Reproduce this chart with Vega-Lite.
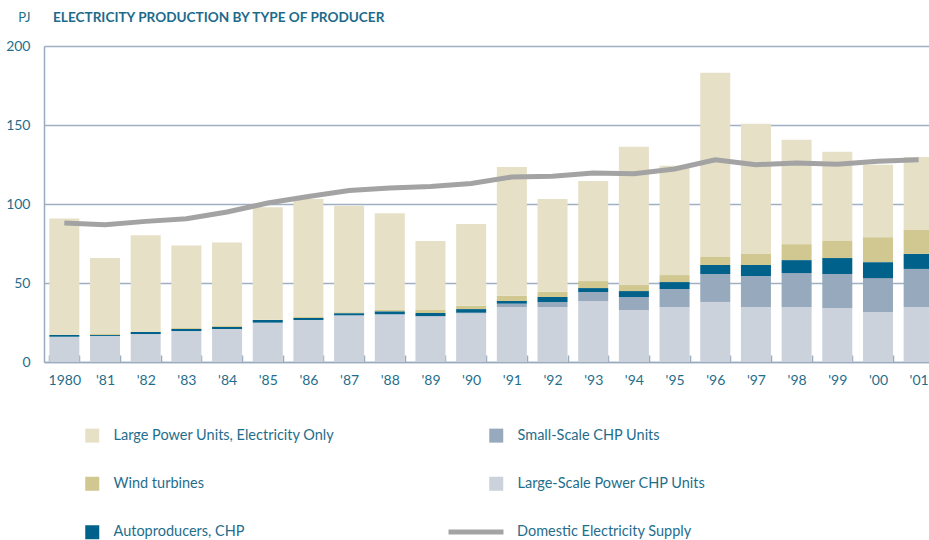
{
  "$schema": "https://vega.github.io/schema/vega-lite/v6.json",
  "autosize": {"type": "none"},
  "width": 885,
  "height": 316,
  "padding": {"left": 44, "top": 46, "right": 0, "bottom": 178},
  "background": "white",
  "title": {
    "text": "ELECTRICITY PRODUCTION BY TYPE OF PRODUCER",
    "anchor": "start",
    "frame": "group",
    "dx": 9,
    "offset": -14,
    "font": "Lato",
    "fontSize": 13.6,
    "fontWeight": "bold",
    "color": "#1d6b8b"
  },
  "data": {
    "values": [
      {"year": "1980", "Large-Scale Power CHP Units": 16.0, "Small-Scale CHP Units": 0, "Autoproducers, CHP": 1.1, "Wind turbines": 0, "Large Power Units, Electricity Only": 73.8, "supply": 88.0},
      {"year": "'81", "Large-Scale Power CHP Units": 16.5, "Small-Scale CHP Units": 0, "Autoproducers, CHP": 0.6, "Wind turbines": 0.6, "Large Power Units, Electricity Only": 48.1, "supply": 86.9},
      {"year": "'82", "Large-Scale Power CHP Units": 17.7, "Small-Scale CHP Units": 0, "Autoproducers, CHP": 1.3, "Wind turbines": 0, "Large Power Units, Electricity Only": 61.2, "supply": 89.0},
      {"year": "'83", "Large-Scale Power CHP Units": 19.6, "Small-Scale CHP Units": 0, "Autoproducers, CHP": 1.3, "Wind turbines": 0.6, "Large Power Units, Electricity Only": 52.3, "supply": 90.7},
      {"year": "'84", "Large-Scale Power CHP Units": 20.9, "Small-Scale CHP Units": 0, "Autoproducers, CHP": 1.3, "Wind turbines": 0.6, "Large Power Units, Electricity Only": 52.9, "supply": 94.9},
      {"year": "'85", "Large-Scale Power CHP Units": 24.9, "Small-Scale CHP Units": 0, "Autoproducers, CHP": 1.7, "Wind turbines": 0.2, "Large Power Units, Electricity Only": 71.1, "supply": 100.6},
      {"year": "'86", "Large-Scale Power CHP Units": 26.6, "Small-Scale CHP Units": 0, "Autoproducers, CHP": 1.3, "Wind turbines": 0.6, "Large Power Units, Electricity Only": 74.7, "supply": 104.8},
      {"year": "'87", "Large-Scale Power CHP Units": 29.3, "Small-Scale CHP Units": 0.3, "Autoproducers, CHP": 1.3, "Wind turbines": 0.6, "Large Power Units, Electricity Only": 67.4, "supply": 108.6},
      {"year": "'88", "Large-Scale Power CHP Units": 30.2, "Small-Scale CHP Units": 0, "Autoproducers, CHP": 1.9, "Wind turbines": 0.8, "Large Power Units, Electricity Only": 61.2, "supply": 110.1},
      {"year": "'89", "Large-Scale Power CHP Units": 28.7, "Small-Scale CHP Units": 0.4, "Autoproducers, CHP": 1.9, "Wind turbines": 1.9, "Large Power Units, Electricity Only": 43.7, "supply": 111.1},
      {"year": "'90", "Large-Scale Power CHP Units": 30.8, "Small-Scale CHP Units": 0.4, "Autoproducers, CHP": 2.3, "Wind turbines": 2.1, "Large Power Units, Electricity Only": 51.7, "supply": 113.0},
      {"year": "'91", "Large-Scale Power CHP Units": 34.8, "Small-Scale CHP Units": 2.1, "Autoproducers, CHP": 1.7, "Wind turbines": 3.4, "Large Power Units, Electricity Only": 81.4, "supply": 117.1},
      {"year": "'92", "Large-Scale Power CHP Units": 34.8, "Small-Scale CHP Units": 3.2, "Autoproducers, CHP": 3.2, "Wind turbines": 3.2, "Large Power Units, Electricity Only": 58.8, "supply": 117.5},
      {"year": "'93", "Large-Scale Power CHP Units": 38.6, "Small-Scale CHP Units": 5.7, "Autoproducers, CHP": 2.5, "Wind turbines": 4.4, "Large Power Units, Electricity Only": 63.4, "supply": 119.6},
      {"year": "'94", "Large-Scale Power CHP Units": 32.9, "Small-Scale CHP Units": 8.2, "Autoproducers, CHP": 3.8, "Wind turbines": 3.8, "Large Power Units, Electricity Only": 87.6, "supply": 119.2},
      {"year": "'95", "Large-Scale Power CHP Units": 34.8, "Small-Scale CHP Units": 11.4, "Autoproducers, CHP": 4.4, "Wind turbines": 4.4, "Large Power Units, Electricity Only": 69.2, "supply": 122.2},
      {"year": "'96", "Large-Scale Power CHP Units": 38.0, "Small-Scale CHP Units": 17.7, "Autoproducers, CHP": 5.7, "Wind turbines": 5.1, "Large Power Units, Electricity Only": 116.5, "supply": 128.0},
      {"year": "'97", "Large-Scale Power CHP Units": 34.8, "Small-Scale CHP Units": 19.6, "Autoproducers, CHP": 7.0, "Wind turbines": 7.0, "Large Power Units, Electricity Only": 82.4, "supply": 124.9},
      {"year": "'98", "Large-Scale Power CHP Units": 34.8, "Small-Scale CHP Units": 21.5, "Autoproducers, CHP": 8.2, "Wind turbines": 10.1, "Large Power Units, Electricity Only": 66.1, "supply": 126.0},
      {"year": "'99", "Large-Scale Power CHP Units": 34.2, "Small-Scale CHP Units": 21.5, "Autoproducers, CHP": 10.1, "Wind turbines": 10.8, "Large Power Units, Electricity Only": 56.5, "supply": 125.1},
      {"year": "'00", "Large-Scale Power CHP Units": 31.6, "Small-Scale CHP Units": 21.5, "Autoproducers, CHP": 10.1, "Wind turbines": 15.8, "Large Power Units, Electricity Only": 45.9, "supply": 127.0},
      {"year": "'01", "Large-Scale Power CHP Units": 34.8, "Small-Scale CHP Units": 24.1, "Autoproducers, CHP": 9.5, "Wind turbines": 15.2, "Large Power Units, Electricity Only": 46.1, "supply": 128.0}
    ]
  },
  "encoding": {
    "x": {
      "field": "year",
      "type": "ordinal",
      "sort": null,
      "scale": {"type": "band", "range": [0, 895], "paddingInner": 0.262, "paddingOuter": 0.131},
      "axis": {
        "title": null,
        "labelAngle": 0,
        "tickBand": "extent",
        "tickSize": -7,
        "tickColor": "#9aabc0",
        "tickWidth": 1.5,
        "domainColor": "#9aabc0",
        "domainWidth": 1.5,
        "labelPadding": 18,
        "labelFont": "Lato",
        "labelFontSize": 14,
        "labelColor": "#1f6e8c",
        "grid": false
      }
    }
  },
  "layer": [
    {
      "transform": [
        {"fold": ["Large-Scale Power CHP Units", "Small-Scale CHP Units", "Autoproducers, CHP", "Wind turbines", "Large Power Units, Electricity Only"], "as": ["type", "value"]},
        {"calculate": "indexof(['Large-Scale Power CHP Units', 'Small-Scale CHP Units', 'Autoproducers, CHP', 'Wind turbines', 'Large Power Units, Electricity Only'], datum.type)", "as": "stackRank"}
      ],
      "mark": {"type": "bar"},
      "encoding": {
        "y": {
          "field": "value",
          "type": "quantitative",
          "stack": "zero",
          "scale": {"domain": [0, 200], "nice": false},
          "axis": {
            "title": "PJ",
            "titleAngle": 0,
            "titleAlign": "right",
            "titleBaseline": "middle",
            "titleX": -14,
            "titleY": -29,
            "titleFont": "Lato",
            "titleFontSize": 13,
            "titleFontWeight": "normal",
            "titleColor": "#1f6e8c",
            "values": [0, 50, 100, 150, 200],
            "ticks": false,
            "labelPadding": 14,
            "labelFont": "Lato",
            "labelFontSize": 14,
            "labelColor": "#1f6e8c",
            "domainColor": "#9aabc0",
            "domainWidth": 1.5,
            "grid": true,
            "gridColor": "#9fb0c4",
            "gridWidth": 1.5
          }
        },
        "color": {
          "field": "type",
          "type": "nominal",
          "scale": {
            "domain": ["Large Power Units, Electricity Only", "Wind turbines", "Autoproducers, CHP", "Small-Scale CHP Units", "Large-Scale Power CHP Units"],
            "range": ["#e6e0c6", "#d1c791", "#00628a", "#97a9bd", "#cbd2dc"]
          },
          "legend": {
            "title": null,
            "orient": "none",
            "legendX": 41,
            "legendY": 382,
            "columns": 2,
            "columnPadding": 154,
            "rowPadding": 32.5,
            "symbolType": "square",
            "symbolSize": 196,
            "symbolStrokeWidth": 0,
            "labelOffset": 14,
            "labelFont": "Lato",
            "labelFontSize": 14.5,
            "labelColor": "#1f6e8c",
            "labelLimit": 400,
            "padding": 0
          }
        },
        "order": {"field": "stackRank", "type": "quantitative"}
      }
    },
    {
      "mark": {"type": "line", "strokeWidth": 5, "strokeCap": "butt"},
      "encoding": {
        "y": {"field": "supply", "type": "quantitative"},
        "stroke": {
          "datum": "Domestic Electricity Supply",
          "scale": {"domain": ["Domestic Electricity Supply"], "range": ["#a3a3a3"]},
          "legend": {
            "title": null,
            "orient": "none",
            "legendX": 402,
            "legendY": 456,
            "symbolType": "stroke",
            "symbolSize": 3025,
            "symbolStrokeWidth": 5,
            "labelOffset": 11,
            "labelFont": "Lato",
            "labelFontSize": 14.5,
            "labelColor": "#1f6e8c",
            "labelLimit": 400,
            "padding": 0,
            "encode": {"symbols": {"update": {"stroke": {"value": "#808080"}}}}
          }
        }
      }
    }
  ],
  "config": {
    "view": {"stroke": null}
  }
}
